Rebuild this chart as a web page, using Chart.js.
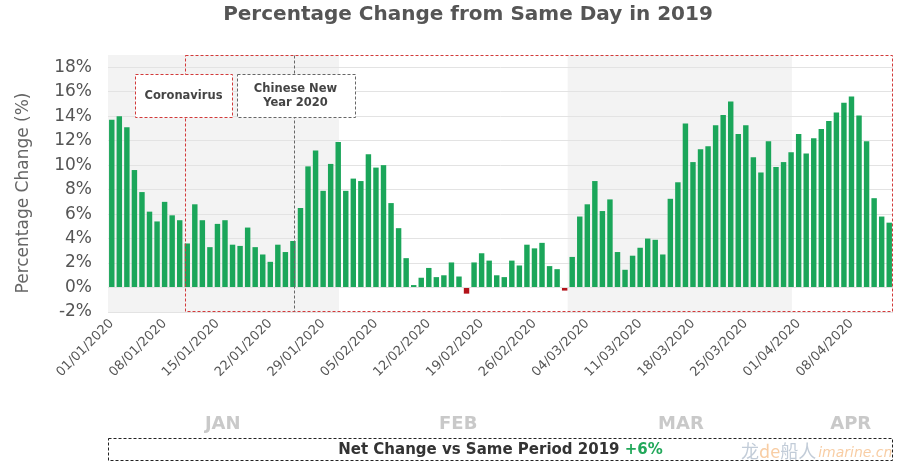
<!DOCTYPE html>
<html>
<head>
<meta charset="utf-8">
<script src="https://cdn.jsdelivr.net/npm/chart.js@4.4.1/dist/chart.umd.min.js"></script>
<style>
  html, body { margin: 0; padding: 0; background: #ffffff; }
  #wrap { width: 900px; height: 467px; position: relative; }
</style>
</head>
<body>
<div id="wrap"><canvas id="c" width="900" height="467"></canvas></div>
<script>
// ---- data ----
const startDate = [2020, 0, 1];
const dayCount = 104;
const categories = [];
for (let i = 0; i < dayCount; i++) {
  const d = new Date(Date.UTC(startDate[0], startDate[1], startDate[2] + i));
  const dd = String(d.getUTCDate()).padStart(2, '0');
  const mm = String(d.getUTCMonth() + 1).padStart(2, '0');
  categories.push(dd + '/' + mm + '/' + d.getUTCFullYear());
}
const tickLabels = ['01/01/2020','08/01/2020','15/01/2020','22/01/2020','29/01/2020','05/02/2020',
  '12/02/2020','19/02/2020','26/02/2020','04/03/2020','11/03/2020','18/03/2020','25/03/2020',
  '01/04/2020','08/04/2020'];
const yTickValues = [-2, 0, 2, 4, 6, 8, 10, 12, 14, 16, 18];
const pctChange = [
  13.7, 14.0, 13.1, 9.6, 7.8, 6.2, 5.4, 7.0, 5.9, 5.5,
  3.6, 6.8, 5.5, 3.3, 5.2, 5.5, 3.5, 3.4, 4.9, 3.3,
  2.7, 2.1, 3.5, 2.9, 3.8, 6.5, 9.9, 11.2, 7.9, 10.1,
  11.9, 7.9, 8.9, 8.7, 10.9, 9.8, 10.0, 6.9, 4.85, 2.4,
  0.2, 0.8, 1.6, 0.85, 1.0, 2.05, 0.9, -0.5, 2.05, 2.8,
  2.2, 1.0, 0.85, 2.2, 1.8, 3.5, 3.2, 3.65, 1.75, 1.5,
  -0.25, 2.5, 5.8, 6.8, 8.7, 6.25, 7.2, 2.9, 1.45, 2.6,
  3.25, 4.0, 3.9, 2.7, 7.25, 8.6, 13.4, 10.25, 11.3, 11.55,
  13.25, 14.1, 15.2, 12.55, 13.25, 10.65, 9.4, 11.95, 9.85, 10.25,
  11.05, 12.55, 10.95, 12.2, 12.95, 13.6, 14.3, 15.1, 15.6, 14.05,
  11.95, 7.3, 5.8, 5.3
];
const monthNames = ['JAN', 'FEB', 'MAR', 'APR'];
const titleText = 'Percentage Change from Same Day in 2019';
const yAxisTitle = 'Percentage Change (%)';
const eventLabels = ['Coronavirus', ['Chinese New', 'Year 2020']];
const eventDates = ['11/01/2020', '25/01/2020'];
const netChangeText = 'Net Change vs Same Period 2019';
const netChangeValue = '+6%';

const FONT = '"DejaVu Sans", Verdana, sans-serif';
const GREEN = '#1ba65a';
const RED = '#b3121a';
const DASH_RED = '#d23a3a';

const decor = {
  id: 'decor',
  beforeDraw(chart) {
    const { ctx, chartArea: a, scales: { x } } = chart;
    ctx.save();
    ctx.fillStyle = '#f3f3f3';
    const jan0 = a.left, jan1 = x.getPixelForValue(30.1);
    const mar0 = x.getPixelForValue(60.4), mar1 = x.getPixelForValue(90.1);
    ctx.fillRect(jan0, a.top, jan1 - jan0, a.bottom - a.top);
    ctx.fillRect(mar0, a.top, mar1 - mar0, a.bottom - a.top);
    ctx.restore();
  },
  afterDatasetsDraw(chart) {
    const { ctx, chartArea: a, scales: { x, y } } = chart;
    ctx.save();
    ctx.lineWidth = 1;
    const covX = Math.round(x.getPixelForValue(categories.indexOf(eventDates[0]) - 0.3)) + 0.5;
    const cnyX = Math.round(x.getPixelForValue(categories.indexOf(eventDates[1]) + 0.2)) + 0.5;
    const top = Math.round(a.top) + 0.5, bot = Math.round(a.bottom) - 0.5, right = Math.round(a.right) - 0.5;
    ctx.setLineDash([3, 2]);
    ctx.strokeStyle = DASH_RED;
    ctx.strokeRect(covX, top, right - covX, bot - top);
    ctx.strokeStyle = '#666666';
    ctx.beginPath(); ctx.moveTo(cnyX, top); ctx.lineTo(cnyX, bot); ctx.stroke();

    const bTop = Math.round(y.getPixelForValue(17.45)) + 0.5;
    const bBot = Math.round(y.getPixelForValue(13.95)) + 0.5;
    const drawBox = (cx, w, color, lines) => {
      const l = Math.round(cx - w / 2) + 0.5;
      ctx.setLineDash([]);
      ctx.fillStyle = '#ffffff';
      ctx.fillRect(l, bTop, w, bBot - bTop);
      ctx.setLineDash([3, 2]);
      ctx.strokeStyle = color;
      ctx.strokeRect(l, bTop, w, bBot - bTop);
      ctx.fillStyle = '#444444';
      ctx.font = 'bold 11.5px ' + FONT;
      ctx.textAlign = 'center';
      ctx.textBaseline = 'middle';
      const mid = (bTop + bBot) / 2;
      const lh = 14;
      lines.forEach((t, i) => ctx.fillText(t, cx, mid + (i - (lines.length - 1) / 2) * lh));
    };
    drawBox(covX - 2, 97, DASH_RED, [eventLabels[0]]);
    drawBox(cnyX + 1, 118, '#666666', eventLabels[1]);
    ctx.restore();
  },
  afterDraw(chart) {
    const { ctx, chartArea: a, scales: { x } } = chart;
    ctx.save();
    // title
    ctx.fillStyle = '#555555';
    ctx.font = 'bold 20px ' + FONT;
    ctx.textAlign = 'center';
    ctx.textBaseline = 'middle';
    ctx.fillText(titleText, 468, 15);
    // y-axis title
    ctx.save();
    ctx.translate(24, 193);
    ctx.rotate(-Math.PI / 2);
    ctx.fillStyle = '#666666';
    ctx.font = '17px ' + FONT;
    ctx.fillText(yAxisTitle, 0, 0);
    ctx.restore();
    // month labels
    ctx.fillStyle = '#c9c9c9';
    ctx.font = 'bold 18px ' + FONT;
    const monthPos = [14.7, 45.9, 75.4, 97.9];
    monthNames.forEach((m, i) => ctx.fillText(m, x.getPixelForValue(monthPos[i]), 424));
    // net change box
    const l = Math.round(a.left) + 0.5, r = Math.round(a.right) - 0.5;
    ctx.setLineDash([3, 2]);
    ctx.strokeStyle = '#222222';
    ctx.lineWidth = 1;
    ctx.strokeRect(l, 438.5, r - l, 22);
    ctx.setLineDash([]);
    ctx.font = 'bold 15px ' + FONT;
    const t1 = netChangeText + ' ', t2 = netChangeValue;
    const w1 = ctx.measureText(t1).width, w2 = ctx.measureText(t2).width;
    const sx = (l + r) / 2 - (w1 + w2) / 2;
    ctx.textAlign = 'left';
    ctx.fillStyle = '#333333';
    ctx.fillText(t1, sx, 450);
    ctx.fillStyle = '#22a85a';
    ctx.fillText(t2, sx + w1, 450);
    // watermark (clipped to the box)
    ctx.save();
    ctx.beginPath(); ctx.rect(l, 439, r - l, 21); ctx.clip();
    ctx.globalAlpha = 0.55;
    ctx.font = '18px "Noto Sans CJK SC", sans-serif';
    let wx = 741;
    const parts = [['龙', '#8fa3b8'], ['de', '#f3a45a'], ['船人', '#8fa3b8']];
    parts.forEach(([t, c]) => { ctx.fillStyle = c; ctx.fillText(t, wx, 451); wx += ctx.measureText(t).width; });
    ctx.fillStyle = '#f3a45a';
    ctx.font = 'italic 14px ' + FONT;
    ctx.fillText('imarine.cn', wx + 2, 453);
    ctx.restore();
    ctx.restore();
  }
};

new Chart(document.getElementById('c'), {
  type: 'bar',
  data: {
    labels: categories,
    datasets: [{
      data: pctChange,
      backgroundColor: (c) => (c.raw < 0 ? RED : GREEN),
      borderWidth: 0,
      barPercentage: 0.72,
      categoryPercentage: 1.0
    }]
  },
  options: {
    responsive: false,
    animation: false,
    devicePixelRatio: 1,
    layout: { padding: { top: 55, left: 10, right: 7, bottom: 10 } },
    plugins: { legend: { display: false }, tooltip: { enabled: false }, title: { display: false } },
    scales: {
      x: {
        grid: { display: false, drawTicks: false },
        border: { display: false },
        ticks: {
          autoSkip: false,
          minRotation: 45,
          maxRotation: 45,
          padding: 4,
          color: '#555555',
          font: { family: FONT, size: 13 },
          callback(v, i) {
            const lab = categories[i];
            return tickLabels.includes(lab) ? lab : '';
          }
        },
        afterFit(s) { s.height = 145; s.paddingRight = 0; s.paddingLeft = 0; }
      },
      y: {
        min: -2,
        max: 19,
        afterBuildTicks(s) { s.ticks = yTickValues.map(v => ({ value: v })); },
        grid: { color: '#e3e3e3', drawTicks: false },
        border: { display: false },
        ticks: {
          padding: 16,
          color: '#555555',
          font: { family: FONT, size: 17 },
          callback: (v) => v + '%'
        },
        afterFit(s) { s.width = 98; s.paddingTop = 0; s.paddingBottom = 0; }
      }
    }
  },
  plugins: [decor]
});
</script>
</body>
</html>
